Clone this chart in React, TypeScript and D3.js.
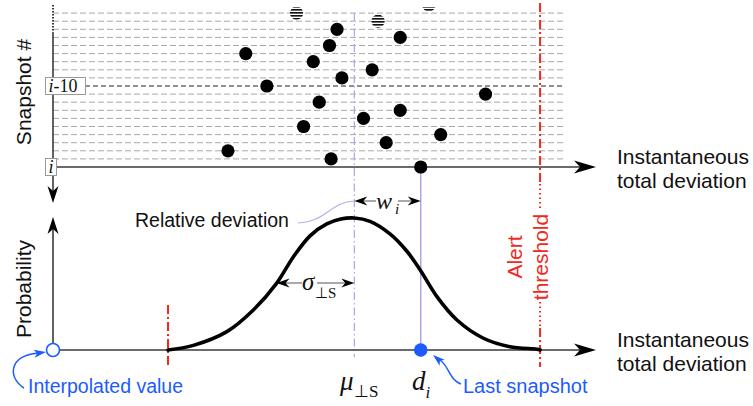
import React from 'react';
import * as d3 from 'd3';

// snapshot age (0 = i, 10 = i-10 ...) and the deviation read for each one
const snapshotAges = [0, 1, 2, 3, 4, 5, 6, 7, 8, 9, 10, 11, 12, 13, 14, 15, 16, 17, 18, 19, 20];
const snapshotDeviation = [68.1, 51.5, 32.4, 61.7, 71.8, 46.4, 57.5, 64.3, 49.3, 80.1, 39.6, 53.5, 59.1, 48.2, 35.7, 51.2, 64.3, 52.6, 60.2, 45.1, 69.6];
const gridAges = [1, 2, 3, 4, 5, 6, 7, 8, 9, 10, 11, 12, 13, 14, 15, 16, 17, 18, 19];
const tickAges = [0, 10];
const tickLabels = [['i', ''], ['i', '-10']];

// relative deviation curve (probability, normalised to peak)
const curveX = [21.3, 26.0, 32.2, 37.1, 41.4, 44.5, 47.6, 50.7, 53.3, 55.8, 58.7, 62.4, 65.5, 68.0, 71.1, 74.8, 79.7, 84.6, 89.6, 90.2];
const curveP = [0, 0.035, 0.139, 0.303, 0.505, 0.705, 0.865, 0.955, 0.992, 1.0, 0.975, 0.88, 0.75, 0.606, 0.404, 0.227, 0.089, 0.025, 0.006, 0];

const meanDeviation = 55.8;
const lowerBound = 21.3;
const alertThreshold = 90.2;
const interpolatedValue = 0;
const lastSnapshot = snapshotDeviation[0];

const W = 753;
const H = 406;
const SANS = "'Liberation Sans', Arial, sans-serif";
const SERIF = "'Liberation Serif', 'Times New Roman', serif";
const RED = '#f0281e';
const BLUE = '#1c5cff';
const PURPLE = '#b3a0e6';
const AXIS = '#3a3a3a';

const x = d3.scaleLinear().domain([0, 100]).range([53, 593]);
const yTop = d3.scaleLinear().domain([0, 20]).range([167, 5]);
const yBot = d3.scaleLinear().domain([0, 1]).range([350, 218]);

const curveLine = d3.line<number>()
  .x((_, k) => x(curveX[k]))
  .y(d => yBot(d))
  .curve(d3.curveCatmullRom.alpha(0.5));

// stealth arrow head, tip at (tx, ty) pointing at angle (deg)
const Head = ({ tx, ty, angle, len = 22, wid = 13, notch = 6, fill = '#000' }: any) => (
  <path
    d={`M0,0 L${-len},${-wid / 2} L${-(len - notch)},0 L${-len},${wid / 2} Z`}
    transform={`translate(${tx},${ty}) rotate(${angle})`}
    fill={fill}
  />
);

export default function App() {
  const x0 = x(0);
  const xEnd = x(100);
  const xGridEnd = x(94.8);
  const xMu = x(meanDeviation);
  const xD = x(lastSnapshot);
  const xT = x(alertThreshold);
  const xL = x(lowerBound);
  const yAxisTop = yTop(0);
  const yAxisBot = yBot(0);

  return (
    <svg width={W} height={H} style={{ position: 'fixed', left: 0, top: 0, background: '#fff' }}>
      <defs>
        <pattern id="fade" patternUnits="userSpaceOnUse" width="10" height="3">
          <rect width="10" height="1.8" fill="#111" />
          <rect y="1.8" width="10" height="1.2" fill="#fff" />
        </pattern>
        <clipPath id="topclip">
          <rect x="0" y="7" width={W} height={H} />
        </clipPath>
      </defs>

      {/* grid of snapshot rows */}
      {gridAges.map(a => (
        <line key={a} x1={x0} x2={xGridEnd} y1={yTop(a)} y2={yTop(a)}
          stroke={a === 10 ? '#222' : '#a8a8a8'} strokeWidth={1}
          strokeDasharray={a === 10 ? '5,3' : '6,3'} />
      ))}

      {/* mean and last snapshot guides */}
      <line x1={xMu} x2={xMu} y1={yTop(19)} y2={yAxisBot + 7} stroke={PURPLE} strokeWidth={1.2} strokeDasharray="8,3,1.5,3" />
      <line x1={xD} x2={xD} y1={yAxisTop} y2={yAxisBot + 7} stroke={PURPLE} strokeWidth={1.5} />

      {/* alert threshold */}
      <line x1={xT} x2={xT} y1={3} y2={183} stroke={RED} strokeWidth={2} strokeDasharray="9,3,2,3" />
      <line x1={xT} x2={xT} y1={184} y2={211} stroke={RED} strokeWidth={2} strokeDasharray="1.5,3" />
      <line x1={xT} x2={xT} y1={302} y2={327} stroke={RED} strokeWidth={2} strokeDasharray="1.5,3" />
      <line x1={xT} x2={xT} y1={328} y2={367} stroke={RED} strokeWidth={2} strokeDasharray="9,3,2,3" />
      <line x1={xL} x2={xL} y1={305} y2={366} stroke={RED} strokeWidth={2} strokeDasharray="9,3,2,3" />

      {/* axes */}
      <line x1={x0} x2={x0} y1={5} y2={32} stroke={AXIS} strokeWidth={2} strokeDasharray="1.5,1.5" />
      <line x1={x0} x2={x0} y1={32} y2={192} stroke={AXIS} strokeWidth={1.6} />
      <Head tx={x0} ty={203} angle={90} len={17} wid={11} notch={5} />
      <line x1={x0} x2={x0} y1={228} y2={yAxisBot} stroke={AXIS} strokeWidth={1.6} />
      <Head tx={x0} ty={217} angle={-90} len={17} wid={11} notch={5} />
      <line x1={x0} x2={xEnd - 10} y1={yAxisTop} y2={yAxisTop} stroke={AXIS} strokeWidth={1.6} />
      <Head tx={xEnd + 3} ty={yAxisTop} angle={0} />
      <line x1={x0} x2={xEnd - 10} y1={yAxisBot} y2={yAxisBot} stroke={AXIS} strokeWidth={1.6} />
      <Head tx={xEnd + 3} ty={yAxisBot} angle={0} />

      {/* snapshots */}
      <g clipPath="url(#topclip)">
        {snapshotAges.map((a, k) => (
          <circle key={a} cx={x(snapshotDeviation[k])} cy={yTop(a)} r={6.6}
            fill={a >= 18 ? 'url(#fade)' : '#000'} />
        ))}
      </g>

      {/* row labels */}
      {tickAges.map((a, k) => {
        const w = tickLabels[k][1] ? 40 : 11;
        return (
          <g key={a}>
            <rect x={45.5} y={yTop(a) - 8.5} width={w} height={17} fill="#fff" stroke="#9a9a9a" strokeWidth={1} />
            <text x={48.5} y={yTop(a) + 5.5} fontFamily={SERIF} fontSize={18} fill="#111">
              <tspan fontStyle="italic">{tickLabels[k][0]}</tspan>{tickLabels[k][1]}
            </text>
          </g>
        );
      })}

      {/* distribution */}
      <path d={curveLine(curveP) || ''} fill="none" stroke="#000" strokeWidth={3.6} strokeLinecap="round" />

      {/* sigma arrow */}
      <line x1={x(41.4) + 8} x2={xMu - 8} y1={283} y2={283} stroke="#555" strokeWidth={1} />
      <Head tx={x(41.4)} ty={283} angle={180} len={13} wid={9} notch={4} />
      <Head tx={xMu} ty={283} angle={0} len={13} wid={9} notch={4} />
      <rect x={302} y={276} width={15} height={12} fill="#fff" />
      <text x={302} y={290} fontFamily={SERIF} fontStyle="italic" fontSize={25} fill="#111">σ</text>
      <text x={315} y={298} fontFamily={SERIF} fontSize={15} fill="#111">⊥S</text>

      {/* w_i arrow */}
      <line x1={xMu + 8} x2={xD - 8} y1={201} y2={201} stroke="#555" strokeWidth={1} />
      <Head tx={xMu} ty={201} angle={180} len={13} wid={9} notch={4} />
      <Head tx={xD} ty={201} angle={0} len={13} wid={9} notch={4} />
      <rect x={376} y={194} width={22} height={13} fill="#fff" />
      <text x={376} y={209} fontFamily={SERIF} fontStyle="italic" fontSize={24} fill="#111">w</text>
      <text x={395} y={214} fontFamily={SERIF} fontStyle="italic" fontSize={15} fill="#111">i</text>

      {/* relative deviation callout */}
      <path d={`M298,223 C326,222 330,202 ${xMu},201`} fill="none" stroke="#c0a8ea" strokeWidth={1.2} />
      <text x={135} y={227} fontFamily={SANS} fontSize={19.5} fill="#111">Relative deviation</text>

      {/* points on lower axis */}
      <circle cx={x(interpolatedValue)} cy={yAxisBot} r={6.5} fill="#fff" stroke={BLUE} strokeWidth={1.6} />
      <circle cx={xD} cy={yAxisBot} r={6.8} fill={BLUE} />
      <path d="M24,388 C8,378 8,356 38,353" fill="none" stroke={BLUE} strokeWidth={1.5} />
      <Head tx={46} ty={352} angle={-8} len={12} wid={8} notch={3} fill={BLUE} />
      <path d="M461,384 C450,381 449,366 440,360" fill="none" stroke={BLUE} strokeWidth={1.5} />
      <Head tx={433} ty={355} angle={-140} len={12} wid={8} notch={3} fill={BLUE} />
      <text x={28} y={393} fontFamily={SANS} fontSize={19.5} fill={BLUE}>Interpolated value</text>
      <text x={463} y={393} fontFamily={SANS} fontSize={20} fill={BLUE}>Last snapshot</text>

      {/* math labels on lower axis */}
      <text x={340} y={390} fontFamily={SERIF} fontStyle="italic" fontSize={27} fill="#111">μ</text>
      <text x={354} y={397} fontFamily={SERIF} fontSize={17} fill="#111">⊥S</text>
      <text x={412} y={390} fontFamily={SERIF} fontStyle="italic" fontSize={27} fill="#111">d</text>
      <text x={425.5} y={398} fontFamily={SERIF} fontStyle="italic" fontSize={17} fill="#111">i</text>

      {/* axis titles */}
      <text transform="translate(31,92) rotate(-90)" textAnchor="middle" fontFamily={SANS} fontSize={21} fill="#111">Snapshot #</text>
      <text transform="translate(31,289) rotate(-90)" textAnchor="middle" fontFamily={SANS} fontSize={21} fill="#111">Probability</text>
      <text x={617} y={164} fontFamily={SANS} fontSize={21} fill="#111">Instantaneous</text>
      <text x={617} y={188} fontFamily={SANS} fontSize={21} fill="#111">total deviation</text>
      <text x={617} y={347} fontFamily={SANS} fontSize={21} fill="#111">Instantaneous</text>
      <text x={617} y={371} fontFamily={SANS} fontSize={21} fill="#111">total deviation</text>

      {/* threshold label */}
      <text transform={`translate(${xT - 18},257) rotate(-90)`} textAnchor="middle" fontFamily={SANS} fontSize={21} fill={RED}>Alert</text>
      <text transform={`translate(${xT + 8},257) rotate(-90)`} textAnchor="middle" fontFamily={SANS} fontSize={21} fill={RED}>threshold</text>
    </svg>
  );
}
